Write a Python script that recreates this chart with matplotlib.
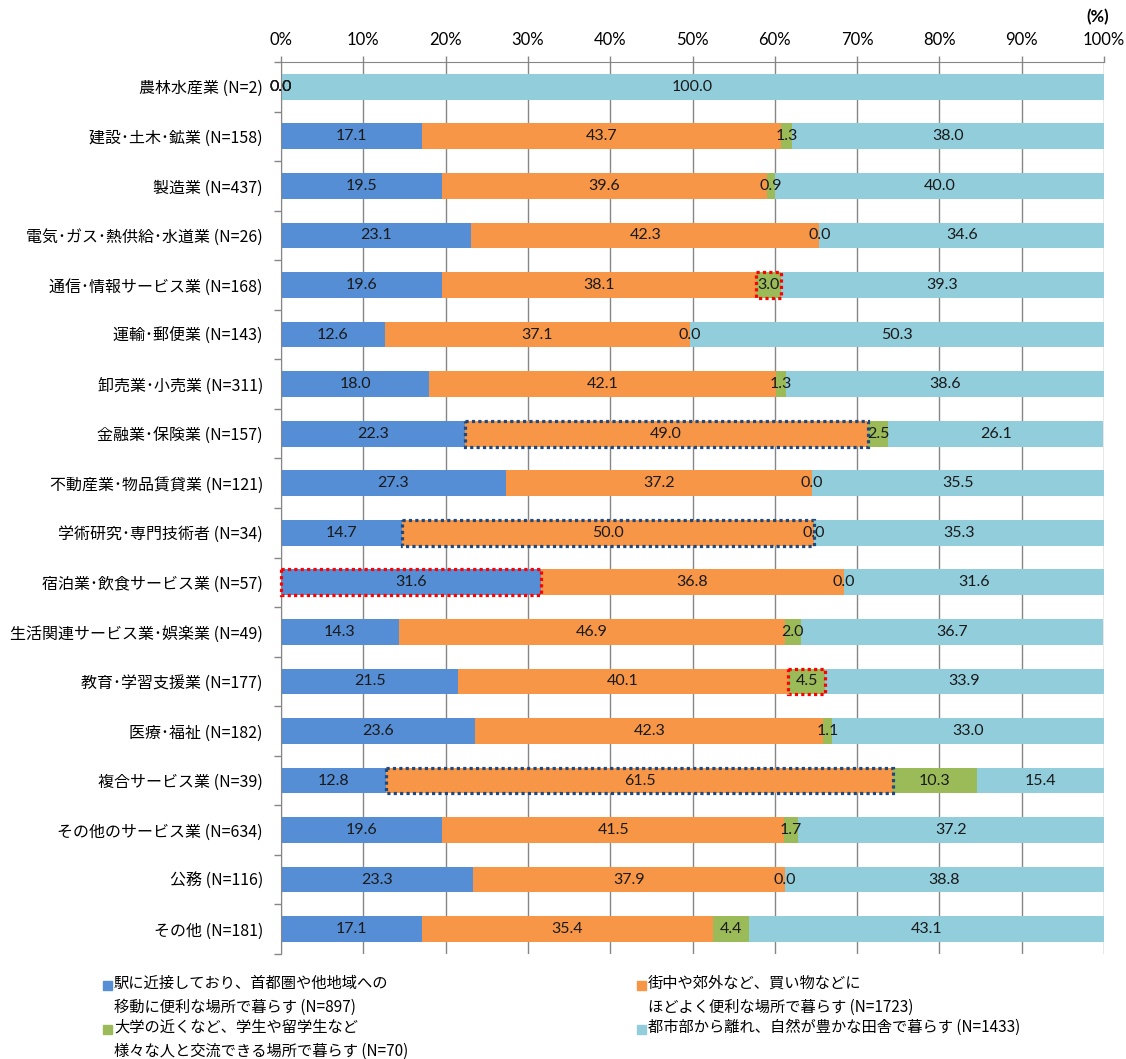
import numpy as np
import matplotlib
matplotlib.use("Agg")
import matplotlib.pyplot as plt
from matplotlib.patches import Rectangle

plt.rcParams['font.family'] = ['Noto Sans CJK JP', 'DejaVu Sans']
num_font = ['Lato', 'DejaVu Sans']

# データ
categories = [
    "農林水産業 (N=2)", "建設･土木･鉱業 (N=158)", "製造業 (N=437)",
    "電気･ガス･熱供給･水道業 (N=26)", "通信･情報サービス業 (N=168)",
    "運輸･郵便業 (N=143)", "卸売業･小売業 (N=311)", "金融業･保険業 (N=157)",
    "不動産業･物品賃貸業 (N=121)", "学術研究･専門技術者 (N=34)",
    "宿泊業･飲食サービス業 (N=57)", "生活関連サービス業･娯楽業 (N=49)",
    "教育･学習支援業 (N=177)", "医療･福祉 (N=182)", "複合サービス業 (N=39)",
    "その他のサービス業 (N=634)", "公務 (N=116)", "その他 (N=181)",
]
near_station = [0.0, 17.1, 19.5, 23.1, 19.6, 12.6, 18.0, 22.3, 27.3, 14.7,
                31.6, 14.3, 21.5, 23.6, 12.8, 19.6, 23.3, 17.1]
town_suburb = [0.0, 43.7, 39.6, 42.3, 38.1, 37.1, 42.1, 49.0, 37.2, 50.0,
               36.8, 46.9, 40.1, 42.3, 61.5, 41.5, 37.9, 35.4]
near_univ = [0.0, 1.3, 0.9, 0.0, 3.0, 0.0, 1.3, 2.5, 0.0, 0.0,
             0.0, 2.0, 4.5, 1.1, 10.3, 1.7, 0.0, 4.4]
countryside = [100.0, 38.0, 40.0, 34.6, 39.3, 50.3, 38.6, 26.1, 35.5, 35.3,
               31.6, 36.7, 33.9, 33.0, 15.4, 37.2, 38.8, 43.1]

series_labels = [
    "駅に近接しており、首都圏や他地域への\n移動に便利な場所で暮らす (N=897)",
    "街中や郊外など、買い物などに\nほどよく便利な場所で暮らす (N=1723)",
    "大学の近くなど、学生や留学生など\n様々な人と交流できる場所で暮らす (N=70)",
    "都市部から離れ、自然が豊かな田舎で暮らす (N=1433)",
]
colors = ["#558ED5", "#F79646", "#9BBB59", "#92CDDC"]

# 強調枠 (行, 系列, 色)
highlights = [(4, 2, "#FF0000"), (10, 0, "#FF0000"), (12, 2, "#FF0000"),
              (7, 1, "#1F497D"), (9, 1, "#1F497D"), (14, 1, "#1F497D")]

series = [near_station, town_suburb, near_univ, countryside]
y = np.arange(len(categories))
bar_h = 0.52

fig = plt.figure(figsize=(11.26, 10.59), dpi=100)
ax = fig.add_axes([0.2496, 0.0992, 0.7309, 0.8423])

left = np.zeros(len(categories))
lefts = []
for vals, c in zip(series, colors):
    vals = np.array(vals)
    ax.barh(y, vals, left=left, height=bar_h, color=c, zorder=2)
    lefts.append(left.copy())
    for yi, (l, v) in enumerate(zip(left, vals)):
        ax.text(l + v / 2, yi, f"{v:.1f}", ha="center", va="center",
                fontsize=11.5, color="#1a1a1a", family=num_font, zorder=4)
    left = left + vals

for row, s, ec in highlights:
    l = lefts[s][row]
    w = series[s][row]
    ax.add_patch(Rectangle((l, row - bar_h / 2), w, bar_h, fill=False,
                           edgecolor=ec, lw=2.3, linestyle=(0, (1, 1)),
                           zorder=5, clip_on=False))

ax.set_xlim(0, 100)
ax.set_ylim(len(categories) - 0.5, -0.5)
ax.set_xticks(np.arange(0, 101, 10))
ax.set_xticklabels([f"{v}%" for v in range(0, 101, 10)], fontsize=12,
                   family=num_font)
ax.xaxis.tick_top()
ax.tick_params(axis="x", length=4, width=1, color="#868686", pad=6)
ax.grid(axis="x", color="#868686", lw=1, zorder=0)

ax.set_yticks(y)
ax.set_yticklabels(categories, fontsize=11.5)
ax.set_yticks(np.arange(-0.5, len(categories), 1), minor=True)
ax.tick_params(axis="y", which="major", length=0, pad=13)
ax.tick_params(axis="y", which="minor", length=5, width=1, color="#868686")

for side in ["bottom", "right"]:
    ax.spines[side].set_visible(False)
for side in ["top", "left"]:
    ax.spines[side].set_color("#868686")

fig.text(1098 / 1126, 1 - 17 / 1059, "(%)", ha="center", va="center",
         fontsize=12, fontweight="bold", family=num_font)

# 凡例
W, H = 1126, 1059
legend_pos = [(103, 985), (637, 985), (103, 1029), (637, 1029)]
for (px, py), c, lab in zip(legend_pos, colors, series_labels):
    fig.patches.append(Rectangle((px / W, 1 - (py + 5) / H), 9 / W, 9 / H,
                                 transform=fig.transFigure, color=c))
    fig.text((px + 11) / W, 1 - (py - 10) / H, lab, ha="left", va="top",
             fontsize=11, linespacing=1.55)

fig.savefig("out.png", dpi=100)
